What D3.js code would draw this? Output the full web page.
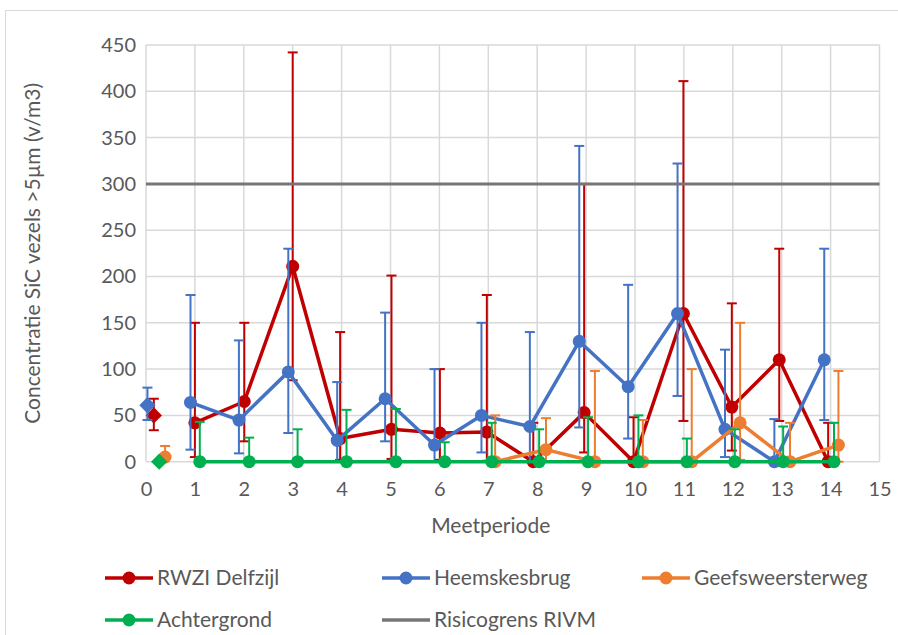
<!DOCTYPE html>
<html>
<head>
<meta charset="utf-8">
<script src="https://cdn.jsdelivr.net/npm/d3@7"></script>
<style>
  html, body { margin: 0; padding: 0; background: #fff; }
  svg { display: block; }
  text { font-family: Lato, "Open Sans", sans-serif; fill: #595959; }
</style>
</head>
<body>
<svg id="chart" width="898" height="635"></svg>
<script>
// Axis ticks
const xTicks = d3.range(0, 16);
const yTicks = d3.range(0, 451, 50);
const riskLimit = 300;

// RWZI Delfzijl (min / max range as error bars)
const rwziX    = [1.00, 2.01, 3.00, 3.97, 5.02, 6.01, 6.97, 7.92, 8.96, 9.97, 10.99, 11.98, 12.95, 13.95];
const rwziVal  = [42, 65, 211, 25, 35, 31, 32, 0, 53, 0, 160, 59, 110, 0];
const rwziLow  = [5, 22, 88, 2, 3, 2, 1, 0, 10, 0, 44, 12, 44, 0];
const rwziHigh = [150, 150, 442, 140, 201, 100, 180, 42, 300, 48, 411, 171, 230, 42];

// Heemskesbrug
const heemsX    = [0.91, 1.90, 2.91, 3.91, 4.89, 5.90, 6.86, 7.85, 8.86, 9.86, 10.87, 11.84, 12.85, 13.87];
const heemsVal  = [64, 45, 97, 23, 68, 18, 50, 38, 130, 81, 160, 35, 0, 110];
const heemsLow  = [13, 9, 31, 0, 22, 0, 10, 0, 37, 25, 71, 5, 0, 45];
const heemsHigh = [180, 131, 230, 86, 161, 100, 150, 140, 341, 191, 322, 121, 46, 230];

// Geefsweersterweg
const geefsX    = [7.14, 8.18, 9.18, 10.16, 11.16, 12.15, 13.17, 14.16];
const geefsVal  = [0, 13, 0, 0, 0, 42, 0, 18];
const geefsLow  = [0, 0, 0, 0, 0, 2, 0, 0];
const geefsHigh = [50, 47, 98, 45, 100, 150, 42, 98];

// Achtergrond
const achterX    = [1.10, 2.11, 3.10, 4.10, 5.11, 6.11, 7.07, 8.04, 9.04, 10.07, 11.06, 12.04, 13.03, 14.07];
const achterVal  = [0, 0, 0, 0, 0, 0, 0, 0, 0, 0, 0, 0, 0, 0];
const achterLow  = [0, 0, 0, 0, 0, 0, 0, 0, 0, 0, 0, 0, 0, 0];
const achterHigh = [43, 26, 35, 56, 57, 21, 42, 35, 48, 50, 25, 35, 38, 42];

// Zero measurement (period 0), drawn as separate markers
const startX     = [0.16, 0.03, 0.39, 0.27];
const startVal   = [50, 61, 5, 0];
const startLow   = [34, 45, 5, 0];
const startHigh  = [68, 80, 17, 0];
const startShape = ["diamond", "diamond", "circle", "diamond"];

const seriesNames  = ["RWZI Delfzijl", "Heemskesbrug", "Geefsweersterweg", "Achtergrond"];
const seriesColors = ["#C00000", "#4472C4", "#ED7D31", "#00B050"];
const riskName = "Risicogrens RIVM";
const riskColor = "#767676";

const series = [
  { x: rwziX,   v: rwziVal,   lo: rwziLow,   hi: rwziHigh },
  { x: heemsX,  v: heemsVal,  lo: heemsLow,  hi: heemsHigh },
  { x: geefsX,  v: geefsVal,  lo: geefsLow,  hi: geefsHigh },
  { x: achterX, v: achterVal, lo: achterLow, hi: achterHigh }
].map((s, i) => ({
  name: seriesNames[i],
  color: seriesColors[i],
  points: s.x.map((x, j) => ({ x, v: s.v[j], lo: s.lo[j], hi: s.hi[j] })),
  start: { x: startX[i], v: startVal[i], lo: startLow[i], hi: startHigh[i], shape: startShape[i] }
}));

const svg = d3.select("#chart");
const plot = { left: 146, right: 879.5, top: 45, bottom: 461.7 };

const x = d3.scaleLinear().domain([0, 15]).range([plot.left, plot.right]);
const y = d3.scaleLinear().domain([0, 450]).range([plot.bottom, plot.top]);

// Outer chart frame
svg.append("rect")
  .attr("x", 5.5).attr("y", 10.5).attr("width", 900).attr("height", 640)
  .attr("fill", "none").attr("stroke", "#d9d9d9").attr("stroke-width", 1);

// Gridlines
const grid = svg.append("g");
grid.selectAll(".vg").data(xTicks).join("line")
  .attr("x1", d => x(d)).attr("x2", d => x(d))
  .attr("y1", plot.top).attr("y2", plot.bottom)
  .attr("stroke", "#d9d9d9").attr("stroke-width", 1.5);
grid.selectAll(".hg").data(yTicks).join("line")
  .attr("x1", plot.left).attr("x2", plot.right)
  .attr("y1", d => y(d)).attr("y2", d => y(d))
  .attr("stroke", "#d9d9d9").attr("stroke-width", 1.5);

// Axes (labels only, lines come from the grid)
const xAxis = svg.append("g")
  .attr("transform", `translate(0,${plot.bottom + 16})`)
  .call(d3.axisBottom(x).tickValues(xTicks).tickSize(0).tickPadding(4));
const yAxis = svg.append("g")
  .attr("transform", `translate(${plot.left - 8},0)`)
  .call(d3.axisLeft(y).tickValues(yTicks).tickSize(0).tickPadding(2));
[xAxis, yAxis].forEach(a => {
  a.select(".domain").remove();
  a.selectAll("text").attr("font-family", "Lato, sans-serif").attr("font-size", 20).attr("fill", "#595959");
});

// Axis titles
svg.append("text")
  .attr("x", (plot.left + plot.right) / 2 - 22).attr("y", 533)
  .attr("text-anchor", "middle").attr("font-size", 21)
  .text("Meetperiode");
svg.append("text")
  .attr("transform", `translate(40,${(plot.top + plot.bottom) / 2}) rotate(-90)`)
  .attr("text-anchor", "middle").attr("font-size", 21)
  .text("Concentratie SiC vezels >5µm (v/m3)");

const capW = 5;
function drawErrorBars(g, pts, color) {
  pts.forEach(p => {
    const px = x(p.x);
    if (p.hi > p.v) {
      g.append("line").attr("x1", px).attr("x2", px).attr("y1", y(p.v)).attr("y2", y(p.hi))
        .attr("stroke", color).attr("stroke-width", 2);
      g.append("line").attr("x1", px - capW).attr("x2", px + capW).attr("y1", y(p.hi)).attr("y2", y(p.hi))
        .attr("stroke", color).attr("stroke-width", 2);
    }
    if (p.lo < p.v) {
      g.append("line").attr("x1", px).attr("x2", px).attr("y1", y(p.v)).attr("y2", y(p.lo))
        .attr("stroke", color).attr("stroke-width", 2);
      g.append("line").attr("x1", px - capW).attr("x2", px + capW).attr("y1", y(p.lo)).attr("y2", y(p.lo))
        .attr("stroke", color).attr("stroke-width", 2);
    }
  });
}

const line = d3.line().x(d => x(d.x)).y(d => y(d.v));
const diamond = d3.symbol().type(d3.symbolDiamond2).size(170);

series.forEach(s => {
  const g = svg.append("g");
  drawErrorBars(g, s.points, s.color);
  drawErrorBars(g, [s.start], s.color);
  g.append("path").attr("d", line(s.points))
    .attr("fill", "none").attr("stroke", s.color).attr("stroke-width", 3.5)
    .attr("stroke-linejoin", "round");
  g.selectAll("circle.pt").data(s.points).join("circle")
    .attr("cx", d => x(d.x)).attr("cy", d => y(d.v)).attr("r", 6.5)
    .attr("fill", s.color);
  if (s.start.shape === "diamond") {
    g.append("path").attr("d", diamond)
      .attr("transform", `translate(${x(s.start.x)},${y(s.start.v)})`)
      .attr("fill", s.color);
  } else {
    g.append("circle").attr("cx", x(s.start.x)).attr("cy", y(s.start.v)).attr("r", 6.5)
      .attr("fill", s.color);
  }
});

// RIVM risk limit
svg.append("line")
  .attr("x1", plot.left).attr("x2", plot.right)
  .attr("y1", y(riskLimit)).attr("y2", y(riskLimit))
  .attr("stroke", riskColor).attr("stroke-width", 3);

// Legend
const legendItems = [
  { name: seriesNames[0], color: seriesColors[0], marker: true, lx: 105, ly: 578 },
  { name: seriesNames[1], color: seriesColors[1], marker: true, lx: 382, ly: 578 },
  { name: seriesNames[2], color: seriesColors[2], marker: true, lx: 642, ly: 578 },
  { name: seriesNames[3], color: seriesColors[3], marker: true, lx: 105, ly: 620 },
  { name: riskName, color: riskColor, marker: false, lx: 382, ly: 620 }
];
const lg = svg.append("g");
legendItems.forEach(it => {
  lg.append("line").attr("x1", it.lx).attr("x2", it.lx + 48).attr("y1", it.ly).attr("y2", it.ly)
    .attr("stroke", it.color).attr("stroke-width", 3.5);
  if (it.marker) {
    lg.append("circle").attr("cx", it.lx + 24).attr("cy", it.ly).attr("r", 6.5).attr("fill", it.color);
  }
  lg.append("text").attr("x", it.lx + 52).attr("y", it.ly).attr("dy", "0.35em")
    .attr("font-size", 21).text(it.name);
});
</script>
</body>
</html>
